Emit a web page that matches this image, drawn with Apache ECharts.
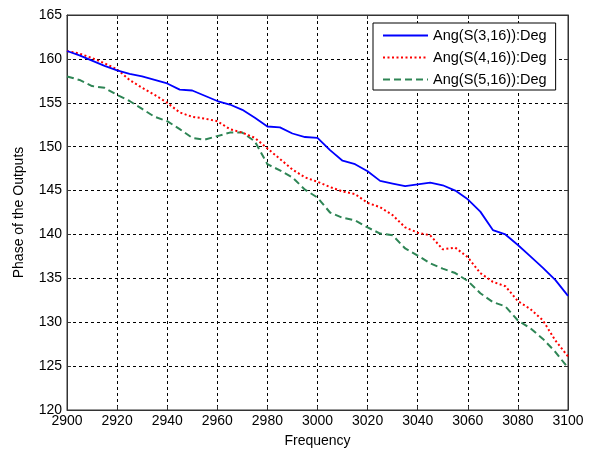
<!DOCTYPE html>
<html>
<head>
<meta charset="utf-8">
<script src="https://cdn.jsdelivr.net/npm/echarts@6/dist/echarts.min.js"></script>
<style>
  html, body { margin: 0; padding: 0; background: #fff; }
  #chart { width: 592px; height: 450px; }
</style>
</head>
<body>
<div id="chart"></div>
<script>
// frequency points, step 5
const freq = [];
for (let f = 2900; f <= 3100; f += 5) freq.push(f);

const seriesNames = ['Ang(S(3,16)):Deg', 'Ang(S(4,16)):Deg', 'Ang(S(5,16)):Deg'];

const s3 = [160.9, 160.4, 159.8, 159.2, 158.7, 158.3, 158.0, 157.6, 157.2, 156.5,
  156.4, 155.8, 155.2, 154.8, 154.2, 153.3, 152.3, 152.2, 151.5, 151.1,
  151.0, 149.6, 148.4, 148.0, 147.2, 146.1, 145.8, 145.5, 145.7, 145.9,
  145.6, 145.0, 144.0, 142.6, 140.5, 140.0, 138.8, 137.5, 136.2, 134.8, 133.0];

const s4 = [160.9, 160.6, 160.1, 159.5, 158.8, 157.6, 156.7, 155.9, 155.0, 153.9,
  153.4, 153.2, 152.9, 152.0, 151.6, 151.0, 149.8, 148.6, 147.4, 146.5,
  146.0, 145.4, 144.9, 144.6, 143.6, 143.1, 142.2, 140.8, 140.2, 139.9,
  138.3, 138.5, 137.4, 135.6, 134.6, 134.1, 132.4, 131.5, 130.2, 127.9, 126.1];

const s5 = [158.0, 157.6, 156.9, 156.7, 155.9, 155.2, 154.3, 153.4, 152.9, 152.0,
  151.0, 150.8, 151.2, 151.6, 151.6, 150.6, 148.0, 147.3, 146.5, 145.1,
  144.2, 142.5, 141.9, 141.6, 140.8, 140.1, 139.9, 138.4, 137.6, 136.7,
  136.1, 135.6, 134.7, 133.3, 132.3, 131.8, 130.2, 129.3, 128.1, 126.6, 124.8];

const chart = echarts.init(document.getElementById('chart'));

const font = 'Liberation Sans, Arial, sans-serif';
const gridDash = { color: '#000', width: 1, type: [3, 3] };

// pair up x and y
const pts = arr => arr.map((v, i) => [freq[i], v]);

const option = {
  animation: false,
  textStyle: { fontFamily: font },
  grid: {
    left: 67, right: 24, top: 15, bottom: 40,
    outerBoundsMode: 'none',
    show: true, borderColor: '#333', borderWidth: 1
  },
  legend: {
    left: 373,
    top: 23,
    orient: 'vertical',
    itemWidth: 45,
    itemHeight: 14,
    itemGap: 7,
    padding: [5, 9, 3, 9],
    backgroundColor: '#fff',
    borderColor: '#000',
    borderWidth: 1,
    borderRadius: 0,
    itemStyle: { opacity: 0 },
    textStyle: { fontSize: 14.5, color: '#000', fontFamily: font },
    data: seriesNames
  },
  xAxis: [{
    type: 'value',
    min: 2900,
    max: 3100,
    interval: 20,
    name: 'Frequency',
    nameLocation: 'middle',
    nameGap: 24,
    nameTextStyle: { fontSize: 14, color: '#000' },
    axisLine: { show: true, lineStyle: { color: '#333' } },
    axisTick: { inside: true, length: 4, lineStyle: { color: '#333' } },
    axisLabel: { fontSize: 14, color: '#000', margin: 4, formatter: v => String(v) },
    splitLine: { show: true, lineStyle: gridDash }
  }, {
    type: 'value',
    position: 'top',
    min: 2900,
    max: 3100,
    interval: 20,
    axisLine: { show: true, lineStyle: { color: '#333' } },
    axisTick: { inside: true, length: 4, lineStyle: { color: '#333' } },
    axisLabel: { show: false },
    splitLine: { show: false }
  }],
  yAxis: [{
    type: 'value',
    min: 120,
    max: 165,
    interval: 5,
    name: 'Phase of the Outputs',
    nameLocation: 'middle',
    nameGap: 41,
    nameTextStyle: { fontSize: 14, color: '#000' },
    axisLine: { show: true, lineStyle: { color: '#333' } },
    axisTick: { show: true, inside: true, length: 4, lineStyle: { color: '#333' } },
    axisLabel: { fontSize: 14, color: '#000', margin: 5 },
    splitLine: { show: true, lineStyle: gridDash }
  }, {
    type: 'value',
    position: 'right',
    min: 120,
    max: 165,
    interval: 5,
    axisLine: { show: true, lineStyle: { color: '#333' } },
    axisTick: { show: true, inside: true, length: 4, lineStyle: { color: '#333' } },
    axisLabel: { show: false },
    splitLine: { show: false }
  }],
  series: [
    {
      name: seriesNames[0],
      type: 'line',
      showSymbol: false,
      symbol: 'none',
      z: 5,
      lineStyle: { color: '#0000ff', width: 1.8, type: 'solid' },
      itemStyle: { color: '#0000ff' },
      data: pts(s3)
    },
    {
      name: seriesNames[1],
      type: 'line',
      showSymbol: false,
      symbol: 'none',
      z: 4,
      lineStyle: { color: '#ff0000', width: 2, type: [2, 2.5] },
      itemStyle: { color: '#ff0000' },
      data: pts(s4)
    },
    {
      name: seriesNames[2],
      type: 'line',
      showSymbol: false,
      symbol: 'none',
      z: 3,
      lineStyle: { color: '#2e8555', width: 2, type: [7, 4] },
      itemStyle: { color: '#2e8555' },
      data: pts(s5)
    }
  ]
};

chart.setOption(option);
</script>
</body>
</html>
